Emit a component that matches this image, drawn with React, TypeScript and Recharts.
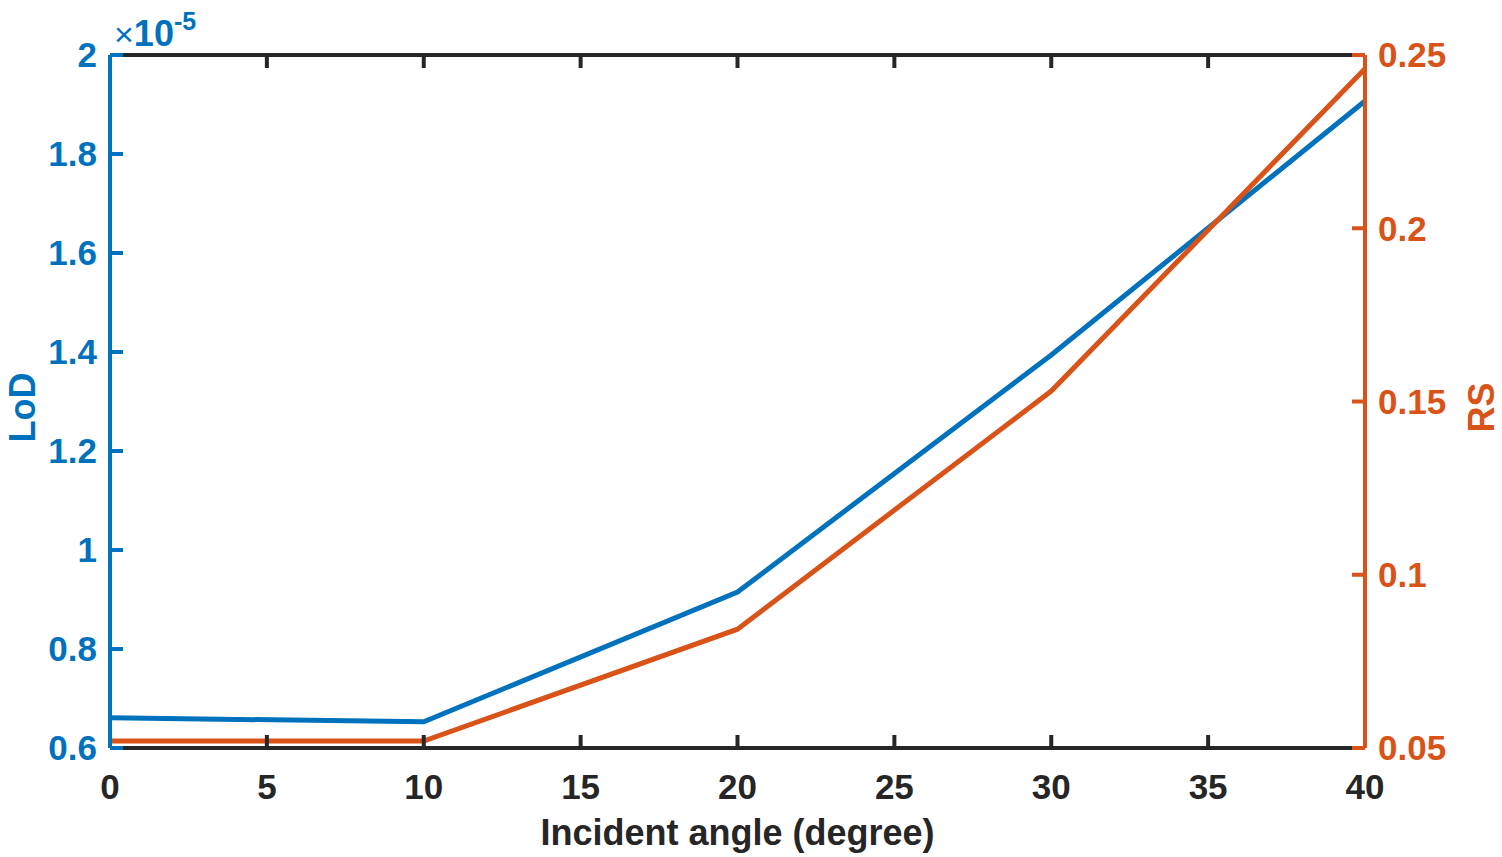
import React from 'react';
import { LineChart, Line, XAxis, YAxis, Label } from 'recharts';

const angles = [0, 10, 20, 30, 40];
const lodValues = [0.661, 0.653, 0.915, 1.394, 1.907]; // ×10^-5
const rsValues = [0.052, 0.052, 0.0843, 0.153, 0.246];
const xTicks = [0, 5, 10, 15, 20, 25, 30, 35, 40];
const lodTicks = [0.6, 0.8, 1, 1.2, 1.4, 1.6, 1.8, 2];
const rsTicks = [0.05, 0.1, 0.15, 0.2, 0.25];

const BLUE = '#0072BD';
const ORANGE = '#D95319';
const DARK = '#262626';
const FONT = '"Liberation Sans", Arial, sans-serif';
const TICK_FS = 35;
const TITLE_FS = 36;

const data = angles.map((a, i) => ({ angle: a, lod: lodValues[i], rs: rsValues[i] }));

const W = 1502;
const H = 857;

export default function App() {
  return (
    <div style={{ position: 'absolute', left: 0, top: 0, width: W, height: H, background: '#fff', fontFamily: FONT }}>
      <LineChart width={W} height={H} data={data} margin={{ top: 15, right: 0, bottom: 0, left: 0 }}>
        <XAxis
          xAxisId="bottom"
          dataKey="angle"
          type="number"
          domain={[0, 40]}
          ticks={xTicks}
          orientation="bottom"
          height={109}
          stroke={DARK}
          strokeWidth={4}
          tickSize={-13}
          tickMargin={39}
          tick={{ fill: DARK, fontSize: TICK_FS, fontWeight: 'bold', fontFamily: FONT }}
          tickLine={{ stroke: DARK, strokeWidth: 4 }}
          interval={0}
        >
          <Label
            content={({ viewBox }: any) => (
              <text
                x={viewBox.x + viewBox.width / 2}
                y={viewBox.y + 97}
                textAnchor="middle"
                fill={DARK}
                fontSize={TITLE_FS}
                fontWeight="bold"
                fontFamily={FONT}
              >
                Incident angle (degree)
              </text>
            )}
          />
        </XAxis>
        <XAxis
          xAxisId="top"
          dataKey="angle"
          type="number"
          domain={[0, 40]}
          ticks={xTicks}
          orientation="top"
          height={40}
          stroke={DARK}
          strokeWidth={4}
          tickSize={-13}
          tickFormatter={() => ''}
          tickLine={{ stroke: DARK, strokeWidth: 4 }}
          interval={0}
        />
        <YAxis
          yAxisId="left"
          orientation="left"
          type="number"
          domain={[0.6, 2]}
          ticks={lodTicks}
          width={110}
          stroke={BLUE}
          strokeWidth={4}
          tickSize={-13}
          tickMargin={26}
          tick={{ fill: BLUE, fontSize: TICK_FS, fontWeight: 'bold', fontFamily: FONT }}
          tickLine={{ stroke: BLUE, strokeWidth: 4 }}
          interval={0}
        >
          <Label
            content={({ viewBox }: any) => (
              <g>
                <text
                  transform={`translate(${viewBox.x + 35}, ${viewBox.y + viewBox.height / 2 + 6}) rotate(-90)`}
                  textAnchor="middle"
                  fill={BLUE}
                  fontSize={TITLE_FS}
                  fontWeight="bold"
                  fontFamily={FONT}
                >
                  LoD
                </text>
                <text
                  x={viewBox.x + viewBox.width + 4}
                  y={viewBox.y - 9}
                  fill={BLUE}
                  fontFamily={FONT}
                >
                  <tspan fontSize={34}>×</tspan>
                  <tspan fontSize={36} fontWeight="bold">10</tspan>
                  <tspan fontSize={25} fontWeight="bold" dy={-16}>-5</tspan>
                </text>
              </g>
            )}
          />
        </YAxis>
        <YAxis
          yAxisId="right"
          orientation="right"
          type="number"
          domain={[0.05, 0.25]}
          ticks={rsTicks}
          width={137}
          stroke={ORANGE}
          strokeWidth={4}
          tickSize={-13}
          tickMargin={26}
          tick={{ fill: ORANGE, fontSize: TICK_FS, fontWeight: 'bold', fontFamily: FONT }}
          tickLine={{ stroke: ORANGE, strokeWidth: 4 }}
          interval={0}
        >
          <Label
            content={({ viewBox }: any) => (
              <text
                transform={`translate(${viewBox.x + 129}, ${viewBox.y + viewBox.height / 2 + 6}) rotate(-90)`}
                textAnchor="middle"
                fill={ORANGE}
                fontSize={TITLE_FS}
                fontWeight="bold"
                fontFamily={FONT}
              >
                RS
              </text>
            )}
          />
        </YAxis>
        <Line
          xAxisId="bottom"
          yAxisId="left"
          type="linear"
          dataKey="lod"
          stroke={BLUE}
          strokeWidth={5}
          dot={false}
          isAnimationActive={false}
        />
        <Line
          xAxisId="bottom"
          yAxisId="right"
          type="linear"
          dataKey="rs"
          stroke={ORANGE}
          strokeWidth={5}
          dot={false}
          isAnimationActive={false}
        />
      </LineChart>
    </div>
  );
}
